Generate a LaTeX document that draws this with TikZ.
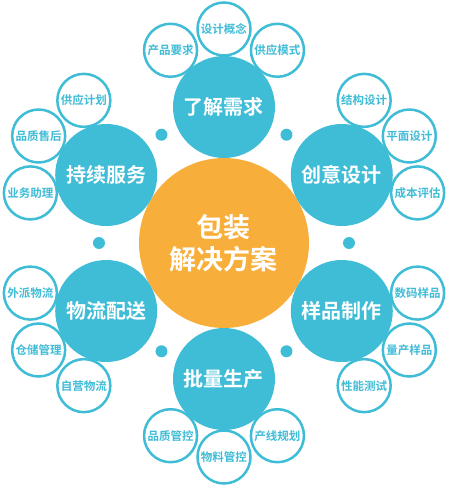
\documentclass[tikz,border=0pt]{standalone}
\usepackage{fontspec}
\newfontfamily\cjk{Noto Sans CJK SC}
\newfontfamily\cjkb{Noto Sans CJK SC Bold}
\definecolor{hexblue}{HTML}{3FBCD6}
\definecolor{hexorange}{HTML}{F8AE3A}
\tikzset{
  hub/.style={circle, fill=hexorange, minimum size=170pt, inner sep=0pt,
    text=white, align=center, font=\cjkb\fontsize{27}{32}\selectfont},
  stage/.style={circle, fill=hexblue, minimum size=102pt, inner sep=0pt,
    text=white, font=\cjkb\fontsize{20}{24}\selectfont},
  detail/.style={circle, draw=hexblue, line width=2.5pt, fill=white,
    minimum size=53pt, inner sep=0pt, text=hexblue,
    font=\cjkb\fontsize{11.5}{13}\selectfont}
}
\begin{document}
\begin{tikzpicture}[x=1pt, y=1pt]
\useasboundingbox (-224,-245) rectangle (226,243);
\def\R{136}   % afstand hoofdcirkels
\def\S{200}   % afstand zijcirkels
\def\T{214}   % afstand middelste zijcirkel

% Middelpunt
\node[hub] (hub) at (0,0) {包装\\解决方案};

% Stippen tussen de hoofdcirkels
\fill[hexblue] (0:125) circle (6pt);
\fill[hexblue] (60:125) circle (6pt);
\fill[hexblue] (120:125) circle (6pt);
\fill[hexblue] (180:125) circle (6pt);
\fill[hexblue] (240:125) circle (6pt);
\fill[hexblue] (300:125) circle (6pt);

% Hoofdcirkels
\node[stage] (need)    at (90:\R)  {了解需求};
\node[stage] (design)  at (30:\R)  {创意设计};
\node[stage] (sample)  at (-30:\R) {样品制作};
\node[stage] (produce) at (-90:\R) {批量生产};
\node[stage] (deliver) at (210:\R) {物流配送};
\node[stage] (service) at (150:\R) {持续服务};

% Zijcirkels bij 了解需求
\node[detail] (need1) at (105.5:\S) {产品要求};
\node[detail] (need3) at (74.5:\S)  {供应模式};
\node[detail] (need2) at (90:\T)    {设计概念};

% Zijcirkels bij 创意设计
\node[detail] (design1) at (45.5:\S) {结构设计};
\node[detail] (design3) at (14.5:\S) {成本评估};
\node[detail] (design2) at (30:\T)   {平面设计};

% Zijcirkels bij 样品制作
\node[detail] (sample1) at (-14.5:\S) {数码样品};
\node[detail] (sample3) at (-45.5:\S) {性能测试};
\node[detail] (sample2) at (-30:\T)   {量产样品};

% Zijcirkels bij 批量生产
\node[detail] (produce1) at (-74.5:\S)  {产线规划};
\node[detail] (produce3) at (-105.5:\S) {品质管控};
\node[detail] (produce2) at (-90:\T)    {物料管控};

% Zijcirkels bij 物流配送
\node[detail] (deliver1) at (194.5:\S) {外派物流};
\node[detail] (deliver3) at (225.5:\S) {自营物流};
\node[detail] (deliver2) at (210:\T)   {仓储管理};

% Zijcirkels bij 持续服务
\node[detail] (service1) at (134.5:\S) {供应计划};
\node[detail] (service3) at (165.5:\S) {业务助理};
\node[detail] (service2) at (150:\T)   {品质售后};
\end{tikzpicture}
\end{document}
